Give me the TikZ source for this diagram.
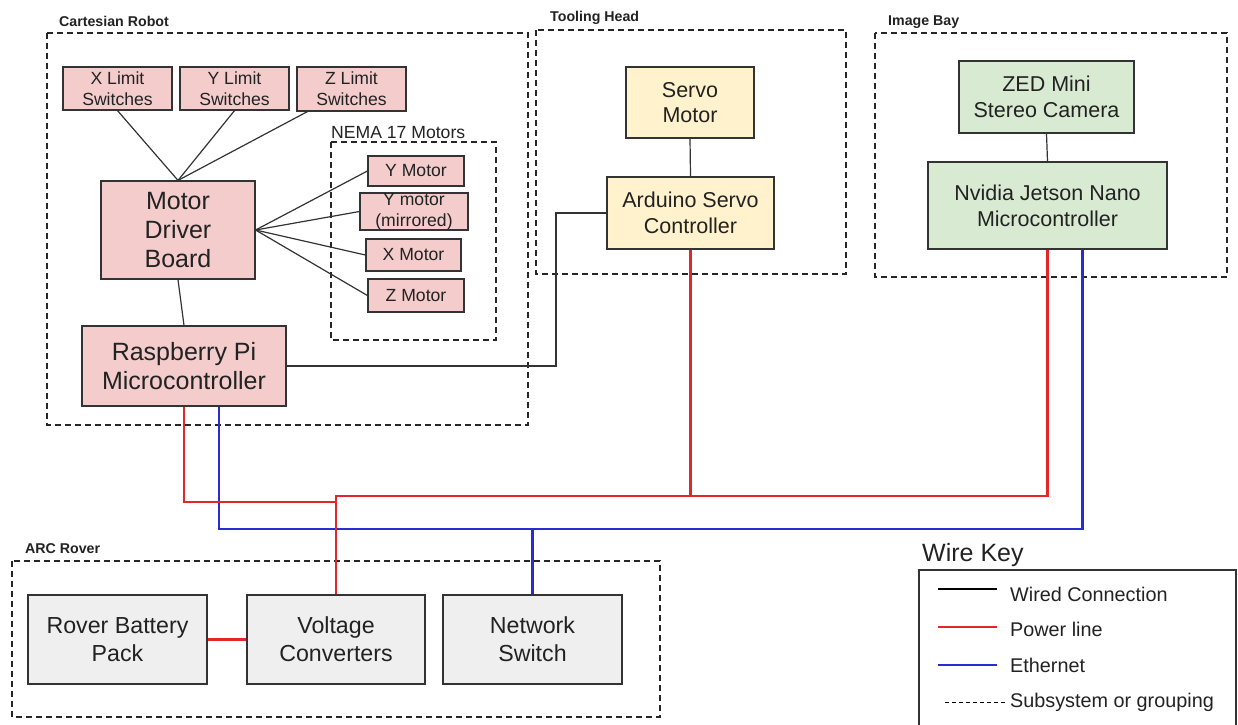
\documentclass[tikz,border=0pt]{standalone}
\usepackage{fontspec}
\setmainfont{Liberation Sans}
\usepackage{tikz}
\usetikzlibrary{positioning, calc}

\definecolor{pinkfill}{HTML}{F4CCCC}
\definecolor{sandfill}{HTML}{FFF2CC}
\definecolor{mintfill}{HTML}{D9EAD3}
\definecolor{greyfill}{HTML}{EFEFEF}
\definecolor{edge}{HTML}{333333}
\definecolor{txt}{HTML}{222222}
\definecolor{pwr}{HTML}{E3262A}
\definecolor{ethblue}{HTML}{2B2BD2}

\newcommand{\fsml}{\fontsize{17.6}{21}\selectfont}
\newcommand{\fmid}{\fontsize{21.5}{25.7}\selectfont}
\newcommand{\fbig}{\fontsize{23.2}{28}\selectfont}
\newcommand{\fhuge}{\fontsize{25}{29}\selectfont}
\newcommand{\fkey}{\fontsize{19.8}{24}\selectfont}
\newcommand{\flbl}{\fontsize{14.2}{17}\selectfont\bfseries}

\begin{document}
\begin{tikzpicture}[x=1pt, y=-1pt,
    blk/.style={draw=edge, line width=1.2pt, inner sep=0pt, align=center, text=txt},
    cart/.style={blk, fill=pinkfill},
    tool/.style={blk, fill=sandfill},
    cam/.style={blk, fill=mintfill},
    rov/.style={blk, fill=greyfill},
    grp/.style={draw=black!85, line width=1.2pt, dash pattern=on 6pt off 4pt},
    grplbl/.style={anchor=base west, inner sep=0pt, text=txt},
    wire/.style={draw=edge, line width=1.2pt},
    pwrline/.style={draw=pwr, line width=2.6pt},
    ethline/.style={draw=ethblue, line width=2.6pt}]
  \useasboundingbox (0,0) rectangle (1238,724);

  % subsystems
  \draw[grp] (47,33) rectangle (528,425);
  \draw[grp] (331,142) rectangle (496,340);
  \draw[grp] (536,30) rectangle (846,274);
  \draw[grp] (875,33) rectangle (1227,277);
  \draw[grp] (12,561) rectangle (660,717);
  \node[grplbl, font=\flbl] (lblcart) at (59,26) {Cartesian Robot};
  \node[grplbl, font=\fsml] (lblnema) at (331,138) {NEMA 17 Motors};
  \node[grplbl, font=\flbl] (lbltool) at (550,21) {Tooling Head};
  \node[grplbl, font=\flbl] (lblcam) at (888,25) {Image Bay};
  \node[grplbl, font=\flbl] (lblrov) at (25,553) {ARC Rover};

  % cartesian robot
  \node[cart, minimum width=109, minimum height=43, font=\fsml] (xlim) at (117.5,88.5) {X Limit\\Switches};
  \node[cart, minimum width=109, minimum height=43, font=\fsml] (ylim) at (234.5,88.5) {Y Limit\\Switches};
  \node[cart, minimum width=109, minimum height=44, font=\fsml] (zlim) at (351.5,89) {Z Limit\\Switches};
  \node[cart, minimum width=154, minimum height=98, font=\fhuge] (mdb) at (178,230) {Motor\\Driver\\Board};
  \node[cart, minimum width=96, minimum height=30, font=\fsml] (ymot) at (416,171) {Y Motor};
  \node[cart, minimum width=108, minimum height=37, font=\fsml] (ymir) at (414,211.5) {Y motor\\(mirrored)};
  \node[cart, minimum width=95, minimum height=32, font=\fsml] (xmot) at (413.5,255) {X Motor};
  \node[cart, minimum width=96, minimum height=33, font=\fsml] (zmot) at (416,295.5) {Z Motor};
  \node[cart, minimum width=204, minimum height=80, font=\fhuge] (rpi) at (184,366) {Raspberry Pi\\Microcontroller};

  % tooling head
  \node[tool, minimum width=128, minimum height=71, font=\fmid] (servo) at (690,102.5) {Servo\\Motor};
  \node[tool, minimum width=167, minimum height=72, font=\fmid] (ard) at (690.5,213) {Arduino Servo\\Controller};

  % image bay
  \node[cam, minimum width=175, minimum height=72, font=\fmid] (zed) at (1046.5,97) {ZED Mini\\Stereo Camera};
  \node[cam, minimum width=239, minimum height=87, font=\fmid] (nv) at (1047.5,205.5) {Nvidia Jetson Nano\\Microcontroller};

  % rover
  \node[rov, minimum width=179, minimum height=89, font=\fbig] (bat) at (117.5,639.5) {Rover Battery\\Pack};
  \node[rov, minimum width=178, minimum height=89, font=\fbig] (volt) at (336,639.5) {Voltage\\Converters};
  \node[rov, minimum width=179, minimum height=89, font=\fbig] (net) at (532.5,639.5) {Network\\Switch};

  % wired connections
  \draw[wire] (xlim.south) -- (mdb.north);
  \draw[wire] (ylim.south) -- (mdb.north);
  \draw[wire] ([xshift=11pt]zlim.south west) -- (mdb.north);
  \draw[wire] (mdb.east) -- (ymot.west);
  \draw[wire] (mdb.east) -- (ymir.west);
  \draw[wire] (mdb.east) -- (xmot.west);
  \draw[wire] (mdb.east) -- (zmot.west);
  \draw[wire] (mdb.south) -- (rpi.north);
  \draw[wire] (servo.south) -- (ard.north);
  \draw[wire] (zed.south) -- (nv.north);
  \coordinate (bend) at (556,0);
  \draw[wire] (rpi.east) -| (bend |- ard.west) -- (ard.west);

  % ethernet
  \coordinate (ebus) at (0,529);
  \coordinate (rpieth) at ([xshift=35pt]rpi.south);
  \coordinate (nveth) at ([xshift=35pt]nv.south);
  \draw[ethline] (rpieth) |- (ebus -| nveth) -- (nveth);
  \draw[ethline] (net.north) -- (net.north |- ebus);

  % power
  \coordinate (pbus) at (0,496);
  \coordinate (ptap) at (0,502);
  \draw[pwrline] (rpi.south) |- (volt.north |- ptap);
  \draw[pwrline] (volt.north) -- (volt.north |- pbus) -| (nv.south);
  \draw[pwrline] (ard.south) -- (ard.south |- pbus);
  \draw[pwrline] (bat.east) -- (volt.west);

  % wire key
  \node[anchor=base west, inner sep=0pt, font=\fhuge, text=txt] (keyttl) at (922,561) {Wire Key};
  \draw[draw=edge, line width=1.2pt] (919,570) rectangle (1236,730);
  \coordinate (k1a) at (938,589); \coordinate (k1b) at (997,589);
  \coordinate (k2a) at (938,627); \coordinate (k2b) at (997,627);
  \coordinate (k3a) at (938,665); \coordinate (k3b) at (997,665);
  \coordinate (k4a) at (945,702); \coordinate (k4b) at (1005,702);
  \draw[draw=black, line width=2pt] (k1a) -- (k1b);
  \draw[pwrline, line width=2pt] (k2a) -- (k2b);
  \draw[ethline, line width=2pt] (k3a) -- (k3b);
  \draw[black, line width=1pt, dash pattern=on 4pt off 3pt] (k4a) -- (k4b);
  \node[anchor=base west, inner sep=0pt, font=\fkey, text=txt] (key1) at (1010,601) {Wired Connection};
  \node[anchor=base west, inner sep=0pt, font=\fkey, text=txt] (key2) at (1010,636) {Power line};
  \node[anchor=base west, inner sep=0pt, font=\fkey, text=txt] (key3) at (1010,672) {Ethernet};
  \node[anchor=base west, inner sep=0pt, font=\fkey, text=txt] (key4) at (1010,707) {Subsystem or grouping};
\end{tikzpicture}
\end{document}
